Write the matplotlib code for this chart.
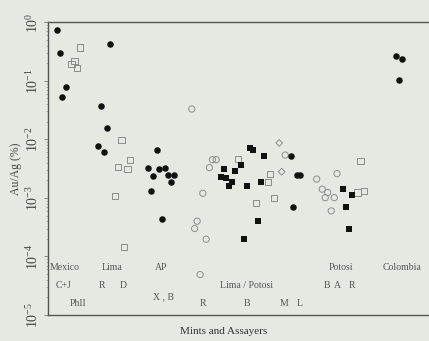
import matplotlib
matplotlib.use("Agg")
import matplotlib.pyplot as plt
from matplotlib.ticker import LogLocator, NullFormatter

plt.rcParams["font.family"] = ["Liberation Serif", "DejaVu Serif"]
plt.rcParams["mathtext.fontset"] = "stix"

# x positions are jittered positions inside each mint/assayer group
filled_circle_x = [0.87, 1.2, 6.17, 1.77, 1.43, 5.27, 5.9, 4.97, 5.57,
                   10.85, 9.97, 10.53, 11.13, 11.73, 12.0, 12.6, 12.3, 10.3, 11.43,
                   24.25, 24.85, 25.2, 24.53,
                   34.8, 35.37, 35.07]
filled_circle_y = [0.74, 0.30, 0.43, 0.078, 0.052, 0.037, 0.0156, 0.0078, 0.0062,
                   0.0065, 0.0033, 0.0024, 0.0031, 0.0032, 0.0025, 0.0025, 0.0019, 0.0013, 0.00044,
                   0.0052, 0.0025, 0.0025, 0.00069,
                   0.27, 0.236, 0.103]

open_square_x = [3.23, 2.65, 2.35, 2.93,
                 7.35, 8.2, 7.0, 7.95, 6.73, 7.57,
                 19.0, 22.22, 22.0, 22.55, 20.75,
                 31.23, 30.93, 31.55]
open_square_y = [0.37, 0.22, 0.194, 0.164,
                 0.0098, 0.0044, 0.0034, 0.0031, 0.00108, 0.000145,
                 0.0046, 0.0026, 0.00185, 0.001, 0.00082,
                 0.0043, 0.00124, 0.00131]

open_circle_x = [14.37, 15.47, 14.9, 14.65, 15.8, 15.2,
                 16.43, 16.8, 16.13, 23.7, 26.85, 28.88,
                 27.4, 27.95, 27.7, 28.6, 28.3]
open_circle_y = [0.033, 0.0012, 0.0004, 0.0003, 0.000197, 0.000049,
                 0.0045, 0.0045, 0.0033, 0.0054, 0.0021, 0.0026,
                 0.00141, 0.00124, 0.00101, 0.00101, 0.0006]

open_diamond_x = [23.1, 23.35]
open_diamond_y = [0.0087, 0.0028]

filled_square_x = [20.2, 20.47, 21.63, 19.3, 17.55, 18.73, 17.28, 17.8, 18.43,
                   18.1, 19.87, 21.33, 21.02, 19.55,
                   29.45, 30.35, 29.75, 30.07]
filled_square_y = [0.0070, 0.0065, 0.0053, 0.0037, 0.0031, 0.0029, 0.0023, 0.0022, 0.00185,
                   0.0016, 0.0016, 0.0019, 0.0004, 0.000197,
                   0.00141, 0.00112, 0.00071, 0.0003]

# group labels: text, x, y (y is a value on the log axis)
group_labels = [("Mexico", 1.65, 6.6e-5), ("Lima", 6.37, 6.6e-5),
                ("AP", 11.28, 6.6e-5), ("Potosi", 29.28, 6.6e-5),
                ("Colombia", 35.37, 6.6e-5),
                ("Lima / Potosi", 19.87, 3.25e-5)]
assayer_labels = [("C+J", 1.53, 3.25e-5), ("R", 5.37, 3.25e-5), ("D", 7.53, 3.25e-5),
                  ("B", 27.87, 3.25e-5), ("A", 28.87, 3.25e-5), ("R", 30.37, 3.25e-5),
                  ("X , B", 11.53, 2.05e-5), ("PhII", 2.95, 1.58e-5),
                  ("R", 15.53, 1.58e-5), ("B", 19.87, 1.58e-5),
                  ("M", 23.63, 1.58e-5), ("L", 25.1, 1.58e-5)]

bg = "#e6e9e2"
fig = plt.figure(figsize=(4.29, 3.41), dpi=100, facecolor=bg)
ax = fig.add_axes([48 / 429, 26 / 341, 1 - 48 / 429 + 0.01, 292.7 / 341])
ax.set_facecolor(bg)

grey = "#8c8c8c"
ax.scatter(open_square_x, open_square_y, marker="s", s=20, facecolors="none",
           edgecolors=grey, linewidths=0.7, zorder=3)
ax.scatter(open_circle_x, open_circle_y, marker="o", s=20, facecolors="none",
           edgecolors=grey, linewidths=0.7, zorder=3)
ax.scatter(open_diamond_x, open_diamond_y, marker="D", s=12, facecolors="none",
           edgecolors=grey, linewidths=0.7, zorder=3)
ax.scatter(filled_square_x, filled_square_y, marker="s", s=20, color="#111111",
           linewidths=0, zorder=4)
ax.scatter(filled_circle_x, filled_circle_y, marker="o", s=22, color="#111111",
           linewidths=0, zorder=4)

ax.set_yscale("log")
ax.set_ylim(1e-5, 1.0)
ax.set_xlim(0, 38.5)
ax.set_xticks([])
ax.yaxis.set_major_locator(LogLocator(base=10, numticks=10))
ax.yaxis.set_minor_locator(LogLocator(base=10, subs=range(2, 10), numticks=20))
ax.yaxis.set_minor_formatter(NullFormatter())
ax.tick_params(axis="y", which="major", length=3, width=0.6, color="#777777",
               labelsize=10, pad=2, labelcolor="#444444")
ax.tick_params(axis="y", which="minor", length=1.5, width=0.5, color="#999999")
for lab in ax.get_yticklabels():
    lab.set_rotation(90)
    lab.set_va("center")

for side in ["top", "bottom", "left"]:
    ax.spines[side].set_color("#555555")
    ax.spines[side].set_linewidth(1.0)
ax.spines["right"].set_visible(False)

for txt, x, y in group_labels + assayer_labels:
    ax.text(x, y, txt, ha="center", va="center", fontsize=7, color="#555555")

ax.set_ylabel("Au/Ag (%)", fontsize=8.5, color="#444444", labelpad=2)
fig.text(223.5 / 429, 1 - 332 / 341, "Mints and Assayers", ha="center", va="center",
         fontsize=8, color="#333333")

fig.savefig("out.png", dpi=100, facecolor=bg)
